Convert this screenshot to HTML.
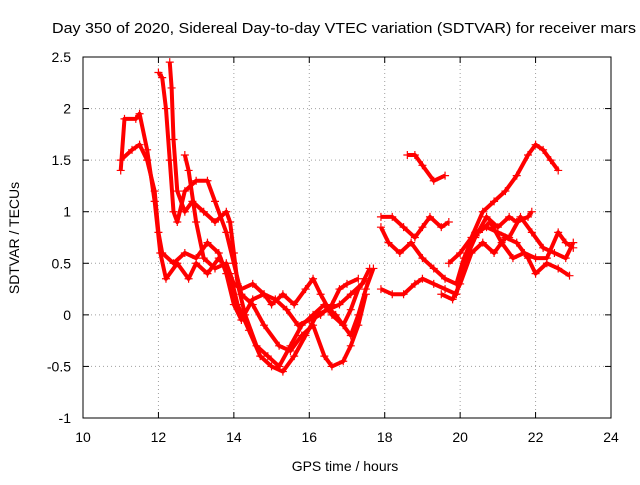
<!DOCTYPE html>
<html><head><meta charset="utf-8"><style>
body{margin:0;background:#fff}
svg{font-family:"Liberation Sans",sans-serif}
</style></head><body>
<svg id="c" width="640" height="480">
<text x="52" y="33" textLength="584" lengthAdjust="spacingAndGlyphs" font-size="14.5">Day 350 of 2020, Sidereal Day-to-day VTEC variation (SDTVAR) for receiver mars</text>
<text x="345" y="471" text-anchor="middle" font-size="14">GPS time / hours</text>
<text transform="translate(19,238) rotate(-90)" text-anchor="middle" font-size="14">SDTVAR / TECUs</text>
<g id="grid"></g><g id="ticks"></g><g id="marks"></g>
<rect x="83" y="57" width="528" height="361" fill="none" stroke="#000"/>
</svg>
<script>
const xTicks=[10,12,14,16,18,20,22,24];
const yTicks=[-1,-0.5,0,0.5,1,1.5,2,2.5];
const yLabels=["-1","-0.5","0","0.5","1","1.5","2","2.5"];
const s1=[[11.0,1.4],[11.1,1.9],[11.4,1.9],[11.5,1.95],[11.7,1.6],[11.9,1.1],[12.05,0.6],[12.2,0.35],[12.5,0.5],[12.8,0.35],[13.0,0.5],[13.3,0.4],[13.6,0.55],[13.9,0.4],[14.1,0.1],[14.4,-0.15],[14.7,-0.4],[15.0,-0.5],[15.3,-0.55],[15.6,-0.4],[15.9,-0.2],[16.2,0.0],[16.5,0.05],[16.8,0.1],[17.1,0.2],[17.4,0.3],[17.6,0.45]];
const s2=[[11.0,1.5],[11.3,1.6],[11.5,1.65],[11.7,1.5],[11.9,1.2],[12.0,0.8],[12.1,0.6],[12.4,0.5],[12.7,0.6],[13.0,0.55],[13.3,0.7],[13.6,0.6],[13.8,0.4],[14.0,0.1],[14.2,-0.05],[14.5,0.15],[14.8,0.2],[15.0,0.1],[15.3,0.2],[15.6,0.1],[15.9,0.25],[16.1,0.35],[16.3,0.2],[16.6,0.0],[16.9,-0.1],[17.1,-0.2],[17.3,0.0],[17.5,0.25],[17.7,0.45]];
const s3=[[12.0,2.35],[12.1,2.3],[12.2,2.0],[12.3,1.5],[12.4,1.0],[12.5,0.9],[12.7,1.2],[13.0,1.3],[13.3,1.3],[13.5,1.1],[13.8,0.8],[14.0,0.5],[14.2,0.2],[14.5,0.1],[14.8,-0.1],[15.2,-0.3],[15.5,-0.35],[15.8,-0.2],[16.1,-0.1],[16.4,-0.4],[16.6,-0.5],[16.9,-0.45],[17.1,-0.3],[17.3,-0.1],[17.5,0.2]];
const s4=[[12.3,2.45],[12.35,2.2],[12.4,1.7],[12.5,1.2],[12.7,1.0],[12.9,1.1],[13.2,1.0],[13.5,0.9],[13.8,1.0],[13.9,0.9],[14.0,0.6],[14.1,0.3],[14.3,0.0],[14.6,-0.3],[14.9,-0.4],[15.2,-0.5],[15.5,-0.3],[15.8,-0.1],[16.1,0.0],[16.4,0.1],[16.7,0.0],[16.9,-0.1],[17.1,0.05],[17.3,0.25],[17.5,0.35]];
const s5=[[12.7,1.55],[12.8,1.4],[13.0,0.9],[13.2,0.55],[13.5,0.45],[13.8,0.5],[14.0,0.3],[14.2,0.25],[14.5,0.3],[14.8,0.2],[15.1,0.15],[15.4,0.05],[15.7,-0.1],[16.0,-0.05],[16.3,0.0],[16.6,0.1],[16.8,0.25],[17.0,0.3],[17.3,0.35]];
const r1=[[17.9,0.95],[18.2,0.95],[18.5,0.85],[18.8,0.75],[19.0,0.85],[19.2,0.95],[19.5,0.85],[19.7,0.9]];
const r2=[[17.9,0.85],[18.1,0.7],[18.4,0.6],[18.7,0.7],[19.0,0.55],[19.3,0.45],[19.6,0.35],[19.9,0.3],[20.1,0.55],[20.4,0.8],[20.7,0.85],[21.0,0.8],[21.3,0.75],[21.6,0.95],[21.9,0.8],[22.2,0.65],[22.5,0.6],[22.8,0.55],[23.0,0.7]];
const r3=[[17.9,0.25],[18.2,0.2],[18.5,0.2],[18.8,0.3],[19.0,0.35],[19.3,0.3],[19.6,0.25],[19.9,0.2],[20.1,0.5],[20.4,0.75],[20.7,0.95],[21.0,0.85],[21.3,0.95],[21.5,0.9],[21.8,0.95],[21.9,1.0]];
const r4=[[18.6,1.55],[18.8,1.55],[19.0,1.45],[19.3,1.3],[19.6,1.35]];
const r5=[[19.7,0.5],[20.0,0.6],[20.3,0.75],[20.6,1.0],[20.9,1.1],[21.2,1.2],[21.5,1.35],[21.8,1.55],[22.0,1.65],[22.2,1.6],[22.4,1.5],[22.6,1.4]];
const r6=[[19.5,0.2],[19.8,0.15],[20.0,0.3],[20.3,0.6],[20.6,0.7],[20.9,0.6],[21.2,0.75],[21.5,0.7],[21.8,0.55],[22.0,0.4],[22.3,0.5],[22.6,0.45],[22.9,0.38]];
const r7=[[20.5,0.8],[20.8,0.9],[21.1,0.7],[21.4,0.55],[21.7,0.6],[22.0,0.55],[22.3,0.55],[22.6,0.8],[22.8,0.7],[23.0,0.65]];
const allSeries=[s1,s2,s3,s4,s5,r1,r2,r3,r4,r5,r6,r7];
const NS="http://www.w3.org/2000/svg";
const X=v=>83+(v-10)*528/14;
const Y=v=>418-(v+1)*361/3.5;
function mk(tag,at,parent){const e=document.createElementNS(NS,tag);for(const k in at)e.setAttribute(k,at[k]);parent.appendChild(e);return e;}
const grid=document.getElementById('grid'),ticks=document.getElementById('ticks'),marks=document.getElementById('marks');
xTicks.forEach(t=>{
 if(t>10&&t<24){const g=mk('line',{x1:X(t),x2:X(t),y1:57,y2:418,stroke:'#a0a0a0','stroke-dasharray':'1,3'},grid);
 
 }
 mk('line',{x1:X(t),x2:X(t),y1:418,y2:412,stroke:'#000'},ticks);
 mk('line',{x1:X(t),x2:X(t),y1:57,y2:63,stroke:'#000'},ticks);
 const tx=mk('text',{x:X(t),y:442,'text-anchor':'middle','font-size':14},ticks);tx.textContent=t;
 
 
});
yTicks.forEach((t,i)=>{
 if(t>-1&&t<2.5){const g=mk('line',{x1:83,x2:611,y1:Y(t),y2:Y(t),stroke:'#a0a0a0','stroke-dasharray':'1,3'},grid);
 
 }
 mk('line',{x1:83,x2:89,y1:Y(t),y2:Y(t),stroke:'#000'},ticks);
 mk('line',{x1:611,x2:605,y1:Y(t),y2:Y(t),stroke:'#000'},ticks);
 const tx=mk('text',{x:71,y:Y(t)+5,'text-anchor':'end','font-size':14},ticks);tx.textContent=yLabels[i];
 
 
});
allSeries.forEach((s,i)=>{
 const p=mk('polyline',{points:s.map(d=>X(d[0])+','+Y(d[1])).join(' '),fill:'none',stroke:'#f00','stroke-width':4,'stroke-linejoin':'round'},marks);
 
 
 s.forEach(d=>{const x=X(d[0]),y=Y(d[1]);
  const m=mk('path',{d:`M${x-4},${y}H${x+4}M${x},${y-4}V${y+4}`,stroke:'#f00','stroke-width':1.2},marks);
  
  
 });
});
</script>
</body></html>
